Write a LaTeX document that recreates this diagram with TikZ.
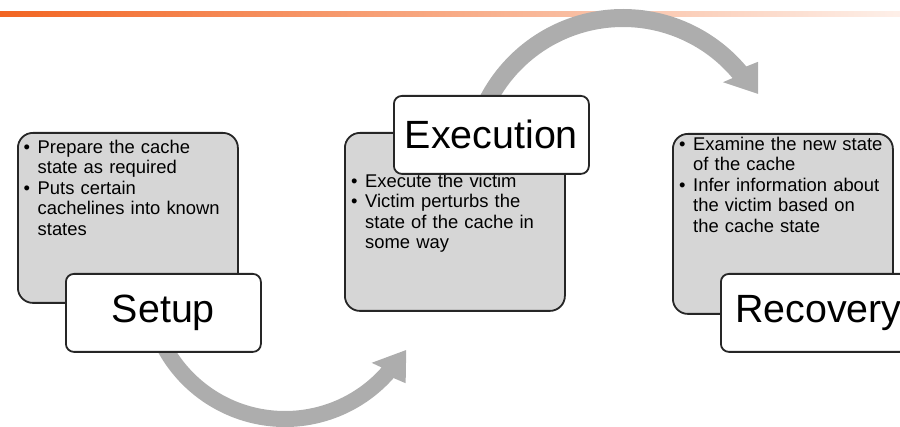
\documentclass[tikz,border=0pt]{standalone}
\usepackage{fontspec}
\setmainfont{Liberation Sans}
\usetikzlibrary{calc}
\definecolor{barorange}{RGB}{242,101,34}
\definecolor{boxgray}{RGB}{214,214,214}
\definecolor{arcgray}{RGB}{173,173,173}
\definecolor{edge}{RGB}{38,38,38}
\tikzset{
	stepbody/.style={draw=edge, fill=boxgray, line width=1.8pt, rounded corners=15pt, minimum width=220pt, inner sep=0pt, anchor=north west},
	steplabel/.style={draw=edge, fill=white, line width=1.8pt, rounded corners=8pt, minimum width=195pt, minimum height=78pt, inner sep=0pt, anchor=north west, font=\fontsize{39.4}{47}\selectfont},
	steptext/.style={anchor=north west, text width=215pt, inner sep=0pt, font=\fontsize{18.4}{20.4}\selectfont},
}
\newcommand{\bitem}[1]{\hangindent=17pt\hangafter=1\noindent\makebox[17pt][l]{\hspace{3pt}\textbullet}#1\par}

\begin{document}
\begin{tikzpicture}[x=1pt, y=1pt]
	\useasboundingbox (0,0) rectangle (900,426);
	\coordinate[](lowc) at (285,144);
	\coordinate[](highc) at (623,256);

	% Bar
	\shade[left color=barorange, right color=barorange!10] (0,409) rectangle (900,414);

	% Arrows
	\begin{scope}[shift={(lowc)}]
	\fill[arcgray] (200:145) arc[start angle=200, end angle=318.5, radius=145] -- (320:157.5) -- (330.7:139) -- (317:118.5) -- (318.5:129) arc[start angle=318.5, end angle=200, radius=129] -- cycle;
	\end{scope}
	\begin{scope}[shift={(highc)}]
	\fill[arcgray] (155:161) arc[start angle=155, end angle=40, radius=161] -- (38.7:173) -- (29.4:155) -- (41.3:133) -- (40:143) arc[start angle=40, end angle=155, radius=143] -- cycle;
	\end{scope}

	% Setup
	\node[stepbody, minimum height=170pt] (setupbody) at (17,294) {};
	\node[steptext] (setuptext) at (20.5,286) {\bitem{Prepare the cache\newline state as required}\bitem{Puts certain\newline cachelines into known\newline states}};
	\node[steplabel] (setuplabel) at (65,153) {Setup};

	% Execution
	\node[stepbody, minimum height=178pt] (execbody) at (344,294) {};
	\node[steptext] (exectext) at (348,252) {\bitem{Execute the victim}\bitem{Victim perturbs the\newline state of the cache in\newline some way}};
	\node[steplabel] (execlabel) at (393,331) {Execution};

	% Recovery
	\node[stepbody, minimum height=180pt] (recbody) at (672,293) {};
	\node[steptext] (rectext) at (676,289) {\bitem{Examine the new state\newline of the cache}\bitem{Infer information about\newline the victim based on\newline the cache state}};
	\node[steplabel] (reclabel) at (720,153) {Recovery};
\end{tikzpicture}
\end{document}
